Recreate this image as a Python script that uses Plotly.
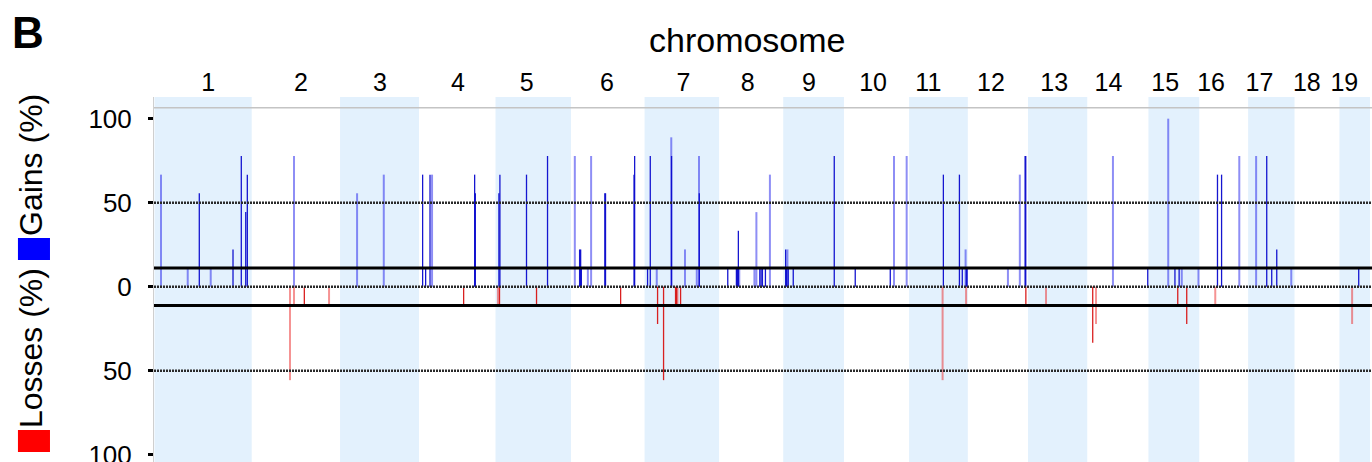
import plotly.graph_objects as go

# ---------------- data ----------------
chrom_names = [str(i) for i in range(1, 20)]
chrom_len_mb = [197, 179, 160, 155, 153, 149, 151, 130, 123, 132,
                119, 122, 120, 124, 103, 99, 94, 91, 62]
# tick label positions (cumulative Mb) as printed on the chart
label_pos_mb = [109, 297, 457, 615, 754, 917, 1072, 1202, 1326, 1456,
                1568, 1695, 1823, 1933, 2048, 2141, 2239, 2335, 2411]

threshold_pct = 11.1
ref_line_pct = 106.5

# gains, strong colour
gd_chr = [1, 1, 1, 1, 1, 4, 4, 4, 4, 4, 5, 5, 5, 5, 6, 6, 6, 6, 6, 6, 6,
          7, 7, 7, 7, 8, 8, 8, 8, 8, 8, 8, 8, 9, 9, 9, 9, 9, 10, 10,
          11, 11, 11, 11, 11, 12, 12, 14, 15, 15, 16, 16, 17, 17, 17, 19]
gd_pos = [90.8, 159.1, 175.9, 184.9, 188.1, 7.3, 13.4, 22.3, 112.7, 114.1,
          6.9, 8.9, 62.8, 105.4, 17.4, 19.5, 20.9, 68.5, 69.9, 127.7, 128.9,
          6.1, 11.6, 54.7, 110.9, 17.6, 35.1, 37.1, 39.1, 82.5, 85.1, 87.8, 93.9,
          4.9, 6.9, 10.1, 20.3, 103.4, 22.9, 93.9,
          69.5, 102.0, 107.8, 115.9, 117.6, 116.1, 117.4, 122.6, 53.7, 62.2,
          36.9, 45.2, 37.7, 47.8, 58.0, 39.1]
gd_pct = [55.6, 22.2, 77.8, 44.4, 66.7, 66.7, 11.1, 66.7, 66.7, 55.6,
          55.6, 66.7, 66.7, 77.8, 22.2, 22.2, 11.1, 55.6, 55.6, 66.7, 77.8,
          11.1, 77.8, 77.8, 55.6, 11.1, 11.1, 11.1, 33.3, 11.1, 11.1, 11.1, 11.1,
          22.2, 11.1, 11.1, 11.1, 77.8, 11.1, 11.1,
          66.7, 66.7, 11.1, 11.1, 11.1, 77.8, 77.8, 11.1, 11.1, 11.1,
          66.7, 66.7, 77.8, 11.1, 22.2, 11.1]

# gains, pale colour
gl_chr = [1, 1, 1, 2, 3, 3, 4, 6, 6, 6, 7, 7, 7, 7, 7, 8, 8, 8, 8, 9,
          10, 10, 11, 12, 12, 14, 15, 15, 15, 16, 17, 17]
gl_pos = [13.2, 67.3, 113.9, 85.7, 34.5, 88.6, 26.4, 7.7, 34.1, 40.7,
          24.7, 54.1, 81.9, 105.8, 110.3, 40.9, 71.6, 75.6, 103.0, 8.5,
          101.4, 127.1, 114.5, 81.3, 105.4, 52.1, 40.1, 67.5, 101.4, 81.1,
          16.2, 87.4]
gl_pct = [66.7, 11.1, 11.1, 77.8, 55.6, 66.7, 66.7, 77.8, 11.1, 77.8,
          11.1, 88.9, 22.2, 11.1, 77.8, 11.1, 11.1, 44.4, 66.7, 22.2,
          77.8, 77.8, 22.2, 11.1, 66.7, 77.8, 100.0, 11.1, 11.1, 77.8,
          77.8, 11.1]

# losses, strong colour
ld_chr = [2, 4, 5, 5, 6, 7, 7, 7, 7, 7, 12, 14, 15, 15]
ld_pos = [106.6, 90.4, 8.1, 83.1, 100.5, 26.4, 38.5, 62.8, 64.9, 73.0,
          117.6, 11.1, 59.4, 77.6]
ld_pct = [11.1, 11.1, 11.1, 11.1, 11.1, 22.2, 55.6, 11.1, 11.1, 11.1,
          11.1, 33.3, 11.1, 22.2]

# losses, pale colour
ll_chr = [2, 2, 2, 5, 7, 11, 11, 13, 14, 16, 19]
ll_pos = [77.6, 85.7, 156.7, 4.9, 66.7, 67.9, 115.5, 36.5, 17.8, 32.4, 25.7]
ll_pct = [55.6, 11.1, 11.1, 11.1, 11.1, 55.6, 11.1, 11.1, 22.2, 11.1, 22.2]

# ---------------- helpers ----------------
chrom_start = []
acc = 0
for L in chrom_len_mb:
    chrom_start.append(acc)
    acc += L
genome_end = acc


def segments(chrs, poss, pcts, sign):
    xs, ys = [], []
    for c, p, v in zip(chrs, poss, pcts):
        gx = chrom_start[c - 1] + p
        xs += [gx, gx, None]
        ys += [0, sign * v, None]
    return xs, ys


FONT = "Liberation Sans, Arial, Helvetica, sans-serif"
fig = go.Figure()

series = [
    (gl_chr, gl_pos, gl_pct, 1, "rgba(30,30,235,0.5)", 2.0),
    (gd_chr, gd_pos, gd_pct, 1, "rgba(10,10,205,0.95)", 1.3),
    (ll_chr, ll_pos, ll_pct, -1, "rgba(235,40,40,0.5)", 2.0),
    (ld_chr, ld_pos, ld_pct, -1, "rgba(215,20,20,0.95)", 1.3),
]
for chrs, poss, pcts, sign, col, w in series:
    xs, ys = segments(chrs, poss, pcts, sign)
    fig.add_trace(go.Scatter(x=xs, y=ys, mode="lines",
                             line=dict(color=col, width=w),
                             hoverinfo="skip", showlegend=False))

shapes = []
# alternating chromosome shading
for i, (s, L) in enumerate(zip(chrom_start, chrom_len_mb)):
    if i % 2 == 0:
        shapes.append(dict(type="rect", xref="x", yref="paper",
                           x0=s, x1=s + L, y0=0, y1=1,
                           fillcolor="#e3f1fd", line=dict(width=0),
                           layer="below"))
# reference grey line near the top
shapes.append(dict(type="line", xref="paper", yref="y", x0=0, x1=1,
                   y0=ref_line_pct, y1=ref_line_pct,
                   line=dict(color="#c4c4c4", width=1.5)))
# dotted lines at 0 and 50
for v in (50, 0, -50):
    shapes.append(dict(type="line", xref="paper", yref="y", x0=0, x1=1,
                       y0=v, y1=v, layer="above",
                       line=dict(color="#2a2a2a", width=2.5, dash="2px,1px")))
# threshold lines
for v in (threshold_pct, -threshold_pct):
    shapes.append(dict(type="line", xref="paper", yref="y", x0=0, x1=1,
                       y0=v, y1=v, layer="above",
                       line=dict(color="black", width=3)))
# legend squares beside the axis titles
shapes.append(dict(type="rect", xref="paper", yref="paper",
                   x0=-0.1117, x1=-0.0854, y0=0.5534, y1=0.6137,
                   fillcolor="#0000ff", line=dict(width=0)))
shapes.append(dict(type="rect", xref="paper", yref="paper",
                   x0=-0.1117, x1=-0.0854, y0=0.0274, y1=0.0877,
                   fillcolor="#ff0000", line=dict(width=0)))

annotations = [
    dict(text="<b>B</b>", xref="paper", yref="paper", x=-0.1034, y=1.178,
         showarrow=False, xanchor="center", yanchor="middle",
         font=dict(family=FONT, size=44, color="black")),
    dict(text="chromosome", xref="paper", yref="paper", x=0.487, y=1.156,
         showarrow=False, xanchor="center", yanchor="middle",
         font=dict(family=FONT, size=34, color="black")),
    dict(text="Gains (%)", xref="paper", yref="paper", x=-0.101, y=0.8137,
         showarrow=False, xanchor="center", yanchor="middle", textangle=-90,
         font=dict(family=FONT, size=32, color="black")),
    dict(text="Losses (%)", xref="paper", yref="paper", x=-0.101, y=0.312,
         showarrow=False, xanchor="center", yanchor="middle", textangle=-90,
         font=dict(family=FONT, size=32, color="black")),
]

fig.update_layout(
    width=1372, height=462,
    margin=dict(l=154, r=0, t=97, b=0, autoexpand=False),
    paper_bgcolor="white", plot_bgcolor="white",
    shapes=shapes, annotations=annotations,
    xaxis=dict(range=[-1, 2467], side="top", showgrid=False, zeroline=False,
               tickmode="array", tickvals=label_pos_mb, ticktext=chrom_names,
               ticks="", showline=False, automargin=False,
               tickfont=dict(family=FONT, size=25, color="black")),
    yaxis=dict(range=[-104.3, 112.9], showgrid=False, zeroline=False,
               tickmode="array", tickvals=[-100, -50, 0, 50, 100],
               ticktext=["100", "50", "0", "50", "100"],
               ticks="outside", ticklen=5, tickwidth=2.5, tickcolor="black",
               showline=True, linecolor="#cfcfcf", linewidth=1,
               ticklabelstandoff=11, ticklabeloverflow="allow",
               automargin=False,
               tickfont=dict(family=FONT, size=26, color="black")),
)

fig.write_html("out.html")
